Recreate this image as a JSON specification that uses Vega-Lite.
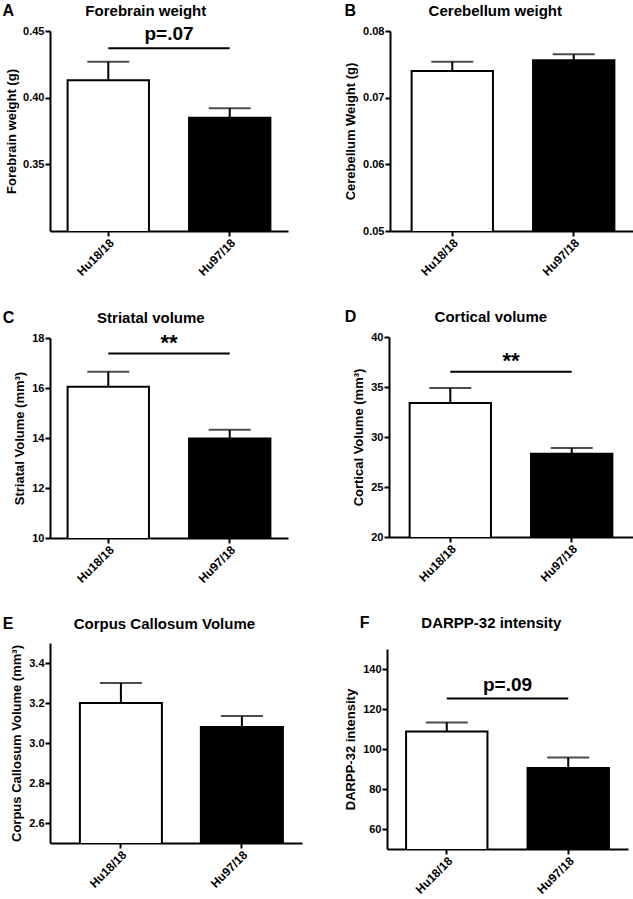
{
  "$schema": "https://vega.github.io/schema/vega-lite/v6.json",
  "padding": {"left": 2, "top": 2, "right": 0, "bottom": 0},
  "background": "white",
  "config": {
    "font": "Liberation Sans",
    "view": {"stroke": null},
    "axis": {"domainColor": "black", "domainWidth": 2, "tickColor": "black", "tickWidth": 2, "tickSize": 5, "labelFont": "Liberation Sans", "labelFontWeight": "bold", "labelFontSize": 11, "labelColor": "black", "labelPadding": 1, "titleFont": "Liberation Sans", "titleFontWeight": "bold", "titleFontSize": 13, "titleColor": "black", "grid": false},
    "axisX": {"labelAngle": -45, "labelFontSize": 12, "title": null},
    "axisY": {"titlePadding": 5},
    "title": {"font": "Liberation Sans", "fontWeight": "bold", "color": "black"},
    "tick": {"thickness": 2}
  },
  "columns": 2,
  "align": "none",
  "spacing": {"row": 31, "column": 42},
  "concat": [
    {
      "title": {"text": "A", "anchor": "start", "frame": "bounds", "fontSize": 16, "offset": -15, "dx": -3},
      "vconcat": [{
        "title": {"text": "Forebrain weight", "anchor": "middle", "frame": "bounds", "fontSize": 15, "offset": 6, "dx": -1},
        "width": 238, "height": 200,
        "resolve": {"scale": {"x": "independent"}},
        "layer": [
          {
            "layer": [
              {
                "data": {"values": [{"group": "Hu18/18", "mean": 0.413, "top": 0.427}, {"group": "Hu97/18", "mean": 0.385, "top": 0.392}]},
                "encoding": {
                  "x": {"field": "group", "type": "nominal", "sort": null, "scale": {"paddingInner": 0.33, "paddingOuter": 0.145}, "axis": {"title": null}},
                  "y": {"field": "mean", "type": "quantitative", "title": "Forebrain weight (g)", "scale": {"domain": [0.30, 0.45], "zero": false, "nice": false}, "axis": {"values": [0.35, 0.40, 0.45], "format": ".2f", "titlePadding": 4}}
                },
                "layer": [
                  {"mark": {"type": "rule", "color": "black", "strokeWidth": 2}, "encoding": {"y2": {"field": "top"}}},
                  {"mark": {"type": "tick", "color": "black", "size": 42, "thickness": 2}, "encoding": {"y": {"field": "top", "type": "quantitative", "title": "Forebrain weight (g)"}}},
                  {"mark": {"type": "bar", "stroke": "black", "strokeWidth": 2, "clip": true}, "encoding": {"fill": {"field": "group", "type": "nominal", "scale": {"domain": ["Hu18/18", "Hu97/18"], "range": ["white", "black"]}, "legend": null}}}
                ]
              },
              {
                "data": {"values": [{"from": "Hu18/18", "to": "Hu97/18", "level": 0.437}]},
                "mark": {"type": "rule", "color": "black", "strokeWidth": 2},
                "encoding": {
                  "x": {"field": "from", "type": "nominal"},
                  "x2": {"field": "to"},
                  "y": {"field": "level", "type": "quantitative", "title": "Forebrain weight (g)"}
                }
              }
            ]
          },
          {
            "data": {"values": [{"pos": 0.5, "level": 0.4435, "label": "p=.07"}]},
            "mark": {"type": "text", "fontSize": 19, "fontWeight": "bold", "color": "black", "baseline": "alphabetic", "align": "center"},
            "encoding": {
              "x": {"field": "pos", "type": "quantitative", "scale": {"domain": [0, 1]}, "axis": null},
              "y": {"field": "level", "type": "quantitative", "title": "Forebrain weight (g)"},
              "text": {"field": "label"}
            }
          }
        ]
      }]
    },
    {
      "title": {"text": "B", "anchor": "start", "frame": "bounds", "fontSize": 16, "offset": -15},
      "vconcat": [{
        "title": {"text": "Cerebellum weight", "anchor": "middle", "frame": "bounds", "fontSize": 15, "offset": 6, "dx": 5},
        "width": 246, "height": 200,
        "data": {"values": [{"group": "Hu18/18", "mean": 0.0740, "top": 0.0754}, {"group": "Hu97/18", "mean": 0.0756, "top": 0.0765}]},
        "encoding": {
          "x": {"field": "group", "type": "nominal", "sort": null, "scale": {"paddingInner": 0.33, "paddingOuter": 0.178}, "axis": {"title": null}},
          "y": {"field": "mean", "type": "quantitative", "title": "Cerebellum Weight (g)", "scale": {"domain": [0.05, 0.08], "zero": false, "nice": false}, "axis": {"values": [0.05, 0.06, 0.07, 0.08], "format": ".2f"}}
        },
        "layer": [
          {"mark": {"type": "rule", "color": "black", "strokeWidth": 2}, "encoding": {"y2": {"field": "top"}}},
          {"mark": {"type": "tick", "color": "black", "size": 42, "thickness": 2}, "encoding": {"y": {"field": "top", "type": "quantitative", "title": "Cerebellum Weight (g)"}}},
          {"mark": {"type": "bar", "stroke": "black", "strokeWidth": 2, "clip": true}, "encoding": {"fill": {"field": "group", "type": "nominal", "scale": {"domain": ["Hu18/18", "Hu97/18"], "range": ["white", "black"]}, "legend": null}}}
        ]
      }]
    },
    {
      "title": {"text": "C", "anchor": "start", "frame": "bounds", "fontSize": 16, "offset": -15, "dx": -11},
      "vconcat": [{
        "title": {"text": "Striatal volume", "anchor": "middle", "frame": "bounds", "fontSize": 15, "offset": 6, "dx": 0},
        "width": 238, "height": 200,
        "resolve": {"scale": {"x": "independent"}},
        "layer": [
          {
            "layer": [
              {
                "data": {"values": [{"group": "Hu18/18", "mean": 16.05, "top": 16.65}, {"group": "Hu97/18", "mean": 13.98, "top": 14.33}]},
                "encoding": {
                  "x": {"field": "group", "type": "nominal", "sort": null, "scale": {"paddingInner": 0.33, "paddingOuter": 0.145}, "axis": {"title": null}},
                  "y": {"field": "mean", "type": "quantitative", "title": "Striatal Volume (mm³)", "scale": {"domain": [10, 18], "zero": false, "nice": false}, "axis": {"values": [10, 12, 14, 16, 18]}}
                },
                "layer": [
                  {"mark": {"type": "rule", "color": "black", "strokeWidth": 2}, "encoding": {"y2": {"field": "top"}}},
                  {"mark": {"type": "tick", "color": "black", "size": 42, "thickness": 2}, "encoding": {"y": {"field": "top", "type": "quantitative", "title": "Striatal Volume (mm³)"}}},
                  {"mark": {"type": "bar", "stroke": "black", "strokeWidth": 2, "clip": true}, "encoding": {"fill": {"field": "group", "type": "nominal", "scale": {"domain": ["Hu18/18", "Hu97/18"], "range": ["white", "black"]}, "legend": null}}}
                ]
              },
              {
                "data": {"values": [{"from": "Hu18/18", "to": "Hu97/18", "level": 17.38}]},
                "mark": {"type": "rule", "color": "black", "strokeWidth": 2},
                "encoding": {
                  "x": {"field": "from", "type": "nominal"},
                  "x2": {"field": "to"},
                  "y": {"field": "level", "type": "quantitative", "title": "Striatal Volume (mm³)"}
                }
              }
            ]
          },
          {
            "data": {"values": [{"pos": 0.5, "level": 17.53, "label": "**"}]},
            "mark": {"type": "text", "fontSize": 22, "fontWeight": "bold", "color": "black", "baseline": "alphabetic", "align": "center"},
            "encoding": {
              "x": {"field": "pos", "type": "quantitative", "scale": {"domain": [0, 1]}, "axis": null},
              "y": {"field": "level", "type": "quantitative", "title": "Striatal Volume (mm³)"},
              "text": {"field": "label"}
            }
          }
        ]
      }]
    },
    {
      "title": {"text": "D", "anchor": "start", "frame": "bounds", "fontSize": 16, "offset": -15, "dx": -8},
      "vconcat": [{
        "title": {"text": "Cortical volume", "anchor": "middle", "frame": "bounds", "fontSize": 15, "offset": 6, "dx": -2},
        "width": 244, "height": 200,
        "resolve": {"scale": {"x": "independent"}},
        "layer": [
          {
            "layer": [
              {
                "data": {"values": [{"group": "Hu18/18", "mean": 33.4, "top": 34.9}, {"group": "Hu97/18", "mean": 28.33, "top": 28.9}]},
                "encoding": {
                  "x": {"field": "group", "type": "nominal", "sort": null, "scale": {"paddingInner": 0.33, "paddingOuter": 0.17}, "axis": {"title": null}},
                  "y": {"field": "mean", "type": "quantitative", "title": "Cortical Volume (mm³)", "scale": {"domain": [20, 40], "zero": false, "nice": false}, "axis": {"values": [20, 25, 30, 35, 40]}}
                },
                "layer": [
                  {"mark": {"type": "rule", "color": "black", "strokeWidth": 2}, "encoding": {"y2": {"field": "top"}}},
                  {"mark": {"type": "tick", "color": "black", "size": 42, "thickness": 2}, "encoding": {"y": {"field": "top", "type": "quantitative", "title": "Cortical Volume (mm³)"}}},
                  {"mark": {"type": "bar", "stroke": "black", "strokeWidth": 2, "clip": true}, "encoding": {"fill": {"field": "group", "type": "nominal", "scale": {"domain": ["Hu18/18", "Hu97/18"], "range": ["white", "black"]}, "legend": null}}}
                ]
              },
              {
                "data": {"values": [{"from": "Hu18/18", "to": "Hu97/18", "level": 36.53}]},
                "mark": {"type": "rule", "color": "black", "strokeWidth": 2},
                "encoding": {
                  "x": {"field": "from", "type": "nominal"},
                  "x2": {"field": "to"},
                  "y": {"field": "level", "type": "quantitative", "title": "Cortical Volume (mm³)"}
                }
              }
            ]
          },
          {
            "data": {"values": [{"pos": 0.5, "level": 36.88, "label": "**"}]},
            "mark": {"type": "text", "fontSize": 22, "fontWeight": "bold", "color": "black", "baseline": "alphabetic", "align": "center"},
            "encoding": {
              "x": {"field": "pos", "type": "quantitative", "scale": {"domain": [0, 1]}, "axis": null},
              "y": {"field": "level", "type": "quantitative", "title": "Cortical Volume (mm³)"},
              "text": {"field": "label"}
            }
          }
        ]
      }]
    },
    {
      "title": {"text": "E", "anchor": "start", "frame": "bounds", "fontSize": 16, "offset": -15, "dx": -8},
      "vconcat": [{
        "title": {"text": "Corpus  Callosum Volume", "anchor": "middle", "frame": "bounds", "fontSize": 15, "offset": 11, "dx": 8},
        "width": 252, "height": 200,
        "data": {"values": [{"group": "Hu18/18", "mean": 3.20, "top": 3.30}, {"group": "Hu97/18", "mean": 3.08, "top": 3.135}]},
        "encoding": {
          "x": {"field": "group", "type": "nominal", "sort": null, "scale": {"paddingInner": 0.322, "paddingOuter": 0.2025, "align": 0.61}, "axis": {"title": null}},
          "y": {"field": "mean", "type": "quantitative", "title": "Corpus Callosum Volume (mm³)", "scale": {"domain": [2.5, 3.5], "zero": false, "nice": false}, "axis": {"values": [2.6, 2.8, 3.0, 3.2, 3.4], "format": ".1f"}}
        },
        "layer": [
          {"mark": {"type": "rule", "color": "black", "strokeWidth": 2}, "encoding": {"y2": {"field": "top"}}},
          {"mark": {"type": "tick", "color": "black", "size": 42, "thickness": 2}, "encoding": {"y": {"field": "top", "type": "quantitative", "title": "Corpus Callosum Volume (mm³)"}}},
          {"mark": {"type": "bar", "stroke": "black", "strokeWidth": 2, "clip": true}, "encoding": {"fill": {"field": "group", "type": "nominal", "scale": {"domain": ["Hu18/18", "Hu97/18"], "range": ["white", "black"]}, "legend": null}}}
        ]
      }]
    },
    {
      "title": {"text": "F", "anchor": "start", "frame": "bounds", "fontSize": 16, "offset": -15, "dx": 15},
      "vconcat": [{
        "title": {"text": "DARPP-32 intensity", "anchor": "middle", "frame": "bounds", "fontSize": 15, "offset": 18, "dx": 5},
        "width": 241, "height": 200,
        "resolve": {"scale": {"x": "independent"}},
        "layer": [
          {
            "layer": [
              {
                "data": {"values": [{"group": "Hu18/18", "mean": 108.8, "top": 113.3}, {"group": "Hu97/18", "mean": 90.5, "top": 95.8}]},
                "encoding": {
                  "x": {"field": "group", "type": "nominal", "sort": null, "scale": {"paddingInner": 0.33, "paddingOuter": 0.157}, "axis": {"title": null}},
                  "y": {"field": "mean", "type": "quantitative", "title": "DARPP-32 intensity", "scale": {"domain": [50, 150], "zero": false, "nice": false}, "axis": {"values": [60, 80, 100, 120, 140]}}
                },
                "layer": [
                  {"mark": {"type": "rule", "color": "black", "strokeWidth": 2}, "encoding": {"y2": {"field": "top"}}},
                  {"mark": {"type": "tick", "color": "black", "size": 42, "thickness": 2}, "encoding": {"y": {"field": "top", "type": "quantitative", "title": "DARPP-32 intensity"}}},
                  {"mark": {"type": "bar", "stroke": "black", "strokeWidth": 2, "clip": true}, "encoding": {"fill": {"field": "group", "type": "nominal", "scale": {"domain": ["Hu18/18", "Hu97/18"], "range": ["white", "black"]}, "legend": null}}}
                ]
              },
              {
                "data": {"values": [{"from": "Hu18/18", "to": "Hu97/18", "level": 125.3}]},
                "mark": {"type": "rule", "color": "black", "strokeWidth": 2},
                "encoding": {
                  "x": {"field": "from", "type": "nominal"},
                  "x2": {"field": "to"},
                  "y": {"field": "level", "type": "quantitative", "title": "DARPP-32 intensity"}
                }
              }
            ]
          },
          {
            "data": {"values": [{"pos": 0.5, "level": 128.8, "label": "p=.09"}]},
            "mark": {"type": "text", "fontSize": 19, "fontWeight": "bold", "color": "black", "baseline": "alphabetic", "align": "center"},
            "encoding": {
              "x": {"field": "pos", "type": "quantitative", "scale": {"domain": [0, 1]}, "axis": null},
              "y": {"field": "level", "type": "quantitative", "title": "DARPP-32 intensity"},
              "text": {"field": "label"}
            }
          }
        ]
      }]
    }
  ]
}
